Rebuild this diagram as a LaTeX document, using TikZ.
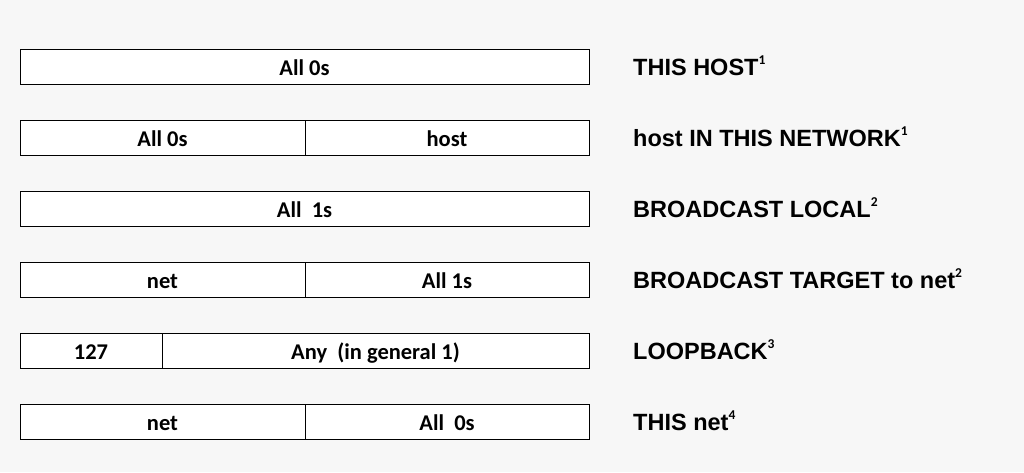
\documentclass[tikz,border=0pt]{standalone}
\usepackage{fontspec}
\newfontfamily\boxfont{Carlito}
\newfontfamily\labfont{Liberation Sans}
\definecolor{bgcol}{HTML}{F7F7F7}
\tikzset{
  seg/.style={draw=black, line width=1pt, fill=white, anchor=west, minimum height=35pt,
    inner sep=0pt, outer sep=0pt, text depth=0pt, text height=17pt,
    font=\boxfont\bfseries\fontsize{22.5}{24}\selectfont},
  lab/.style={anchor=west, inner sep=0pt, text height=16.8pt, text depth=0pt,
    font=\labfont\bfseries\fontsize{23.5}{26}\selectfont},
}
\newcommand{\sups}[1]{\raisebox{11pt}{\boxfont\bfseries\fontsize{13.5}{14}\selectfont #1}}
\begin{document}
\begin{tikzpicture}[x=1pt,y=-1pt]
\fill[bgcol] (0,0) rectangle (1024,472);
\useasboundingbox (0,0) rectangle (1024,472);
% row 1
\node[seg, minimum width=569pt] (r1a) at (20,67) {All 0s};
\node[lab] (l1) at (633,67) {THIS HOST\sups{1}};
% row 2
\node[seg, minimum width=285pt] (r2a) at (20,138) {All 0s};
\node[seg, minimum width=284pt] (r2b) at (305,138) {host};
\node[lab] (l2) at (633,138) {host IN THIS NETWORK\sups{1}};
% row 3
\node[seg, minimum width=569pt] (r3a) at (20,209) {All\ \ 1s};
\node[lab] (l3) at (633,209) {BROADCAST LOCAL\sups{2}};
% row 4
\node[seg, minimum width=285pt] (r4a) at (20,280) {net};
\node[seg, minimum width=284pt] (r4b) at (305,280) {All 1s};
\node[lab] (l4) at (633,280) {BROADCAST TARGET to net\sups{2}};
% row 5
\node[seg, minimum width=142pt] (r5a) at (20,351) {127};
\node[seg, minimum width=427pt] (r5b) at (162,351) {Any\ \ (in general 1)};
\node[lab] (l5) at (633,351) {LOOPBACK\sups{3}};
% row 6
\node[seg, minimum width=285pt] (r6a) at (20,422) {net};
\node[seg, minimum width=284pt] (r6b) at (305,422) {All\ \ 0s};
\node[lab] (l6) at (633,422) {THIS net\sups{4}};
\end{tikzpicture}
\end{document}
